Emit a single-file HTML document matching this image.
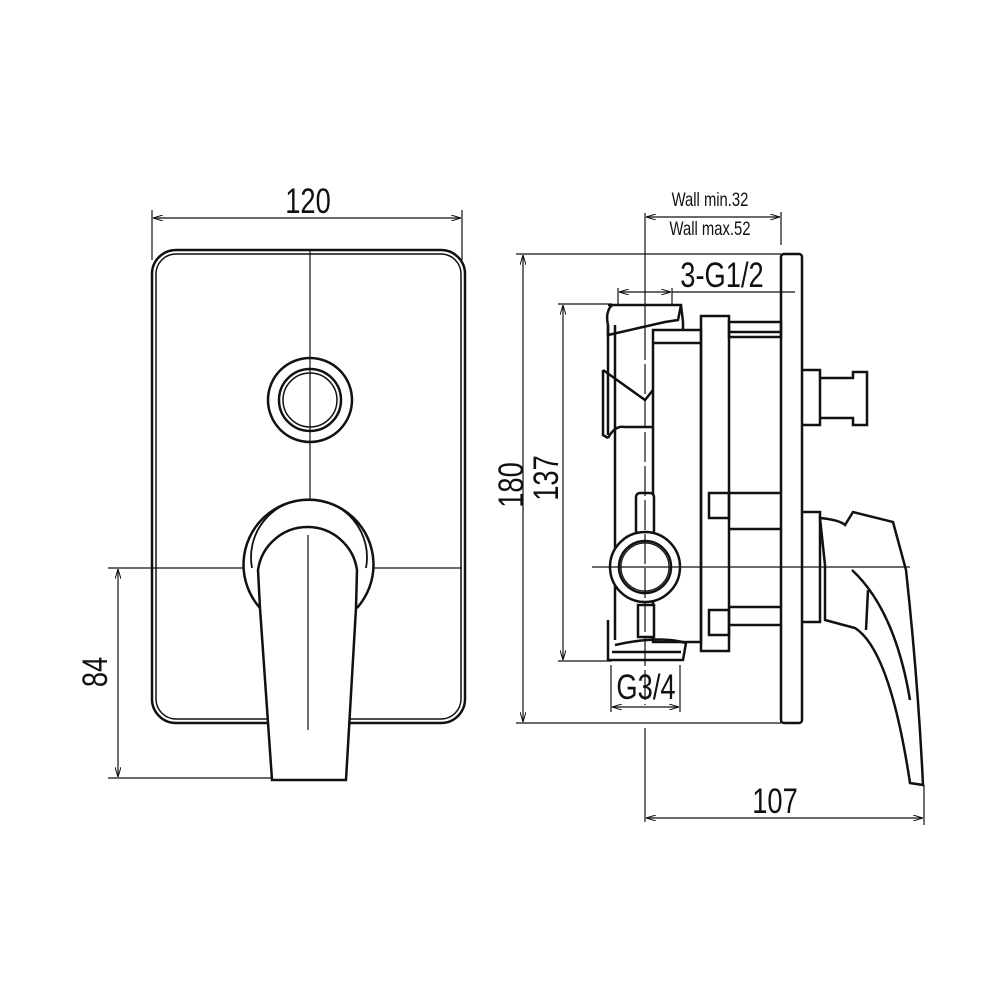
<!DOCTYPE html>
<html><head><style>body{margin:0;background:#fff}svg{display:block}text{font-family:"Liberation Sans",sans-serif;fill:#111}</style></head>
<body>
<svg width="1000" height="1000" viewBox="0 0 1000 1000" xmlns="http://www.w3.org/2000/svg">
<defs><marker id="a" viewBox="0 0 10 6" refX="10" refY="3" markerWidth="10" markerHeight="6" orient="auto-start-reverse" markerUnits="userSpaceOnUse"><path d="M0,0 L10,3 L0,6" fill="none" stroke="#111" stroke-width="1"/></marker></defs>
<g fill="none" stroke="#111" stroke-width="1.2">
<!-- LEFT VIEW -->
<line x1="152" y1="210" x2="152" y2="260"/><line x1="462" y1="210" x2="462" y2="260"/>
<line x1="153" y1="218" x2="461" y2="218" marker-start="url(#a)" marker-end="url(#a)"/>
<rect x="152" y="250" width="313" height="473" rx="24" stroke-width="2.5"/>
<rect x="156" y="254" width="305" height="465" rx="20" stroke-width="1.5"/>
<line x1="310" y1="250" x2="310" y2="728"/>
<line x1="108" y1="568" x2="462" y2="568"/>
<line x1="108" y1="778" x2="300" y2="778"/>
<line x1="118" y1="569" x2="118" y2="777" marker-start="url(#a)" marker-end="url(#a)"/>
<circle cx="310" cy="400" r="42" stroke-width="2.5"/><circle cx="310" cy="400" r="31" stroke-width="2.5"/><circle cx="310" cy="400" r="27" stroke-width="1.5"/>
<path d="M260,608 A65,65 0 1 1 357,608" stroke-width="2.5" fill="#fff"/>
<path d="M252,568 A58,58 0 1 1 366,568" stroke-width="1.8"/>
<path d="M260,608 L258,570 A50,50 0 0 1 357,570 L356,608 L346,780 L272,780 Z" stroke-width="2.5" fill="#fff"/>
<line x1="308" y1="535" x2="308" y2="730"/>
<!-- RIGHT VIEW -->
<line x1="516" y1="254" x2="781" y2="254"/><line x1="516" y1="723" x2="781" y2="723"/>
<line x1="523" y1="255" x2="523" y2="722" marker-start="url(#a)" marker-end="url(#a)"/>
<line x1="558" y1="304" x2="612" y2="304"/><line x1="558" y1="661" x2="612" y2="661"/>
<line x1="563" y1="305" x2="563" y2="660" marker-start="url(#a)" marker-end="url(#a)"/>
<line x1="645" y1="213" x2="645" y2="330"/><line x1="781" y1="212" x2="781" y2="245"/>
<line x1="646" y1="217" x2="780" y2="217" marker-start="url(#a)" marker-end="url(#a)"/>
<line x1="618" y1="288" x2="618" y2="305"/><line x1="672" y1="288" x2="672" y2="305"/>
<line x1="619" y1="292" x2="671" y2="292" marker-start="url(#a)" marker-end="url(#a)"/>
<line x1="672" y1="292" x2="795" y2="292"/>
<rect x="781" y="254" width="21" height="469" rx="3" stroke-width="2.5"/>
<g stroke-width="2.5">
<path d="M608,305 L681,305 L683,322 L683,330"/>
<path d="M612,305 Q605,312 608,325 L608,335 Q630,330 665,322 L678,320 L681,305"/>
<line x1="608" y1="325" x2="608" y2="435"/>
<line x1="615" y1="325" x2="615" y2="640"/>
<path d="M603,370 L645,400 L653,390"/><path d="M603,370 L603,435 L608,438"/>
<path d="M608,438 Q615,425 625,427 L653,427"/>
<rect x="653" y="330" width="48" height="312"/>
<line x1="653" y1="343" x2="701" y2="343"/>
<rect x="701" y="316" width="28" height="335"/>
<rect x="729" y="322" width="52" height="15"/>
<line x1="729" y1="332" x2="781" y2="332"/>
<rect x="709" y="493" width="20" height="25"/><line x1="729" y1="493" x2="781" y2="493"/><line x1="729" y1="529" x2="781" y2="529"/>
<rect x="709" y="610" width="20" height="25"/><line x1="729" y1="607" x2="781" y2="607"/><line x1="729" y1="625" x2="781" y2="625"/>
<path d="M608,620 L608,660 L683,660 L686,643 Q660,635 615,645"/>
<line x1="612" y1="652" x2="681" y2="652"/>
<rect x="636" y="493" width="18" height="42" rx="4" fill="#fff"/>
<rect x="638" y="605" width="16" height="32" fill="#fff"/>
<circle cx="645" cy="567" r="35" fill="#fff"/><circle cx="645" cy="567" r="26"/><circle cx="645" cy="567" r="24" stroke-width="1.2"/>
<path d="M802,370 L820,370 L820,425 L802,425"/>
<path d="M820,378 L853,378 L853,372 L867,372 L867,425 L853,425 L853,418 L820,418"/>
<path d="M802,512 L820,512 L820,622 L802,622"/>
<path d="M820,518 Q840,520 845,525 L853,512 L893,522 L906,570 Q918,680 923,785 L910,783 Q890,650 855,628 L825,620 L825,565 Z" fill="#fff"/>
<path d="M852,570 Q895,610 910,700"/>
<line x1="868" y1="590" x2="866" y2="630"/>
</g>
<line x1="592" y1="567" x2="910" y2="567"/>
<line x1="645" y1="330" x2="645" y2="705" stroke-dasharray="30 4"/>
<line x1="645" y1="728" x2="645" y2="822"/>
<line x1="611" y1="665" x2="611" y2="712"/><line x1="680" y1="665" x2="680" y2="712"/>
<line x1="612" y1="707" x2="679" y2="707" marker-start="url(#a)" marker-end="url(#a)"/>
<line x1="924" y1="785" x2="924" y2="825"/>
<line x1="646" y1="818" x2="923" y2="818" marker-start="url(#a)" marker-end="url(#a)"/>
</g>
<g font-size="35" text-anchor="middle">
<text x="308" y="213" transform="translate(308 0) scale(0.78 1) translate(-308 0)">120</text>
<text transform="translate(107 672) rotate(-90) scale(0.78 1)">84</text>
<text transform="translate(523 485) rotate(-90) scale(0.78 1)">180</text>
<text transform="translate(558 478) rotate(-90) scale(0.78 1)">137</text>
<text x="722" y="287" transform="translate(722 0) scale(0.78 1) translate(-722 0)">3-G1/2</text>
<text x="646" y="699" transform="translate(646 0) scale(0.78 1) translate(-646 0)">G3/4</text>
<text x="775" y="813" transform="translate(775 0) scale(0.78 1) translate(-775 0)">107</text>
</g>
<g font-size="19" text-anchor="middle">
<text x="710" y="206" transform="translate(710 0) scale(0.78 1) translate(-710 0)">Wall min.32</text>
<text x="710" y="235" transform="translate(710 0) scale(0.78 1) translate(-710 0)">Wall max.52</text>
</g>
</svg>
</body></html>
